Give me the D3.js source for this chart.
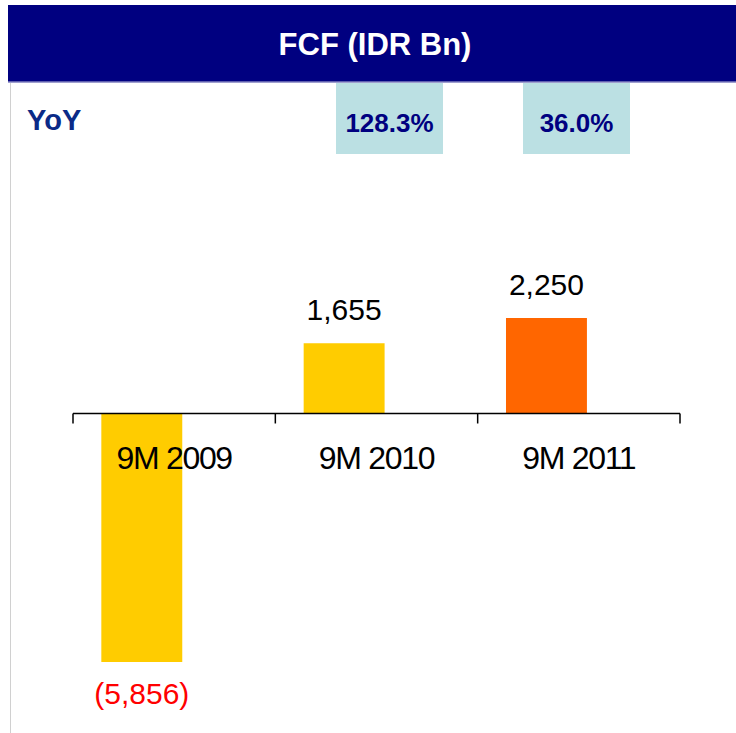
<!DOCTYPE html>
<html>
<head>
<meta charset="utf-8">
<script src="https://cdn.jsdelivr.net/npm/d3@7"></script>
<style>
  body { margin: 0; background: #fff; }
  text { font-family: 'Liberation Sans', Arial, sans-serif; }
</style>
</head>
<body>
<div id="chart"></div>
<script>
const categories = ['9M 2009', '9M 2010', '9M 2011']
const values = [-5856, 1655, 2250]
const valueLabels = ['(5,856)', '1,655', '2,250']
const barColors = ['#FFCC00', '#FFCC00', '#FF6600']
const yoyCategories = ['9M 2010', '9M 2011']
const yoyLabels = ['128.3%', '36.0%']

const width = 736
const height = 733

const svg = d3
  .select('#chart')
  .append('svg')
  .attr('width', width)
  .attr('height', height)

// header bar
svg.append('rect')
  .attr('x', 8).attr('y', 5)
  .attr('width', width - 8).attr('height', 77)
  .attr('fill', '#000080')
svg.append('line')
  .attr('x1', 8).attr('x2', width)
  .attr('y1', 82).attr('y2', 82)
  .attr('stroke', '#7f7fbf').attr('stroke-width', 1.5)
svg.append('line')
  .attr('x1', 10.5).attr('x2', 10.5)
  .attr('y1', 83).attr('y2', height)
  .attr('stroke', '#d0d0d0').attr('stroke-width', 1)

svg.append('text')
  .attr('x', 375).attr('y', 55)
  .attr('text-anchor', 'middle')
  .attr('fill', '#fff')
  .attr('font-weight', 'bold')
  .attr('font-size', 31)
  .text('FCF (IDR Bn)')

svg.append('text')
  .attr('x', 27).attr('y', 130)
  .attr('fill', '#0b2a87')
  .attr('font-weight', 'bold')
  .attr('font-size', 29)
  .text('YoY')

const x = d3.scaleBand()
  .domain(categories)
  .range([73, 680])

const y = d3.scaleLinear()
  .domain([-5856, 2250])
  .range([662, 318])

const zero = y(0)

// YoY boxes
const yoyX = d3.scalePoint()
  .domain(yoyCategories)
  .range([389.5, 576.5])

const yoy = yoyCategories.map((c, i) => ({ c, label: yoyLabels[i] }))
svg.selectAll('.yoy-box')
  .data(yoy)
  .enter()
  .append('rect')
  .attr('class', 'yoy-box')
  .attr('x', d => yoyX(d.c) - 53.5)
  .attr('y', 83)
  .attr('width', 107)
  .attr('height', 71)
  .attr('fill', '#bbe0e3')
svg.selectAll('.yoy-text')
  .data(yoy)
  .enter()
  .append('text')
  .attr('class', 'yoy-text')
  .attr('x', d => yoyX(d.c))
  .attr('y', 132)
  .attr('text-anchor', 'middle')
  .attr('fill', '#000080')
  .attr('font-weight', 'bold')
  .attr('font-size', 26)
  .text(d => d.label)

const data = categories.map((c, i) => ({ c, v: values[i], label: valueLabels[i], color: barColors[i] }))

const barOffset = x.bandwidth() * 0.14
const barWidth = x.bandwidth() * 0.40

svg.selectAll('.bar')
  .data(data)
  .enter()
  .append('rect')
  .attr('class', 'bar')
  .attr('x', d => x(d.c) + barOffset)
  .attr('width', barWidth)
  .attr('y', d => Math.min(y(d.v), zero))
  .attr('height', d => Math.abs(y(d.v) - zero))
  .attr('fill', d => d.color)

svg.selectAll('.val')
  .data(data)
  .enter()
  .append('text')
  .attr('class', 'val')
  .attr('x', d => x(d.c) + barOffset + barWidth / 2)
  .attr('y', d => d.v < 0 ? y(d.v) + 42 : y(d.v) - 23)
  .attr('text-anchor', 'middle')
  .attr('font-size', 30)
  .attr('fill', d => d.v < 0 ? '#ff0000' : '#000')
  .text(d => d.label)

// axis at zero
const axis = svg.append('g')
svg.append('line')
  .attr('x1', 73).attr('x2', 680)
  .attr('y1', zero).attr('y2', zero)
  .attr('stroke', '#000').attr('stroke-width', 1.5)
const tickPos = categories.map(c => x(c)).concat([x(categories[categories.length - 1]) + x.bandwidth()])
axis.selectAll('line')
  .data(tickPos)
  .enter()
  .append('line')
  .attr('x1', d => d).attr('x2', d => d)
  .attr('y1', zero).attr('y2', zero + 10)
  .attr('stroke', '#000').attr('stroke-width', 1.5)

svg.selectAll('.cat')
  .data(categories)
  .enter()
  .append('text')
  .attr('class', 'cat')
  .attr('x', d => x(d) + x.bandwidth() / 2)
  .attr('y', zero + 56)
  .attr('text-anchor', 'middle')
  .attr('font-size', 32)
  .attr('letter-spacing', -1.3)
  .attr('fill', '#000')
  .text(d => d)
</script>
</body>
</html>
